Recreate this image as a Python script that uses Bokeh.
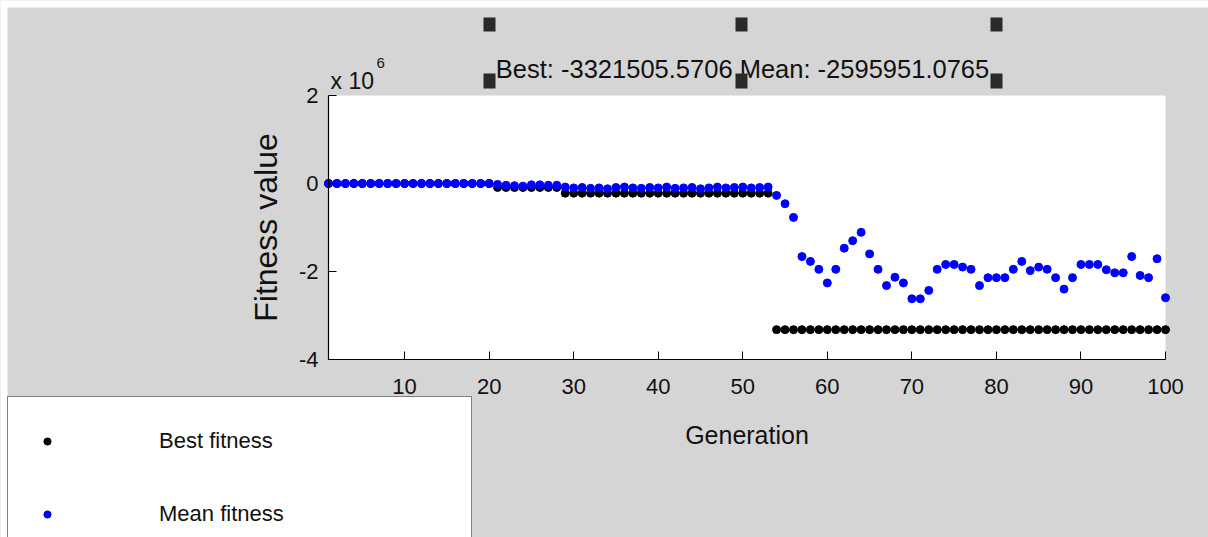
from bokeh.plotting import figure
from bokeh.models import (Range1d, FixedTicker, Label, BoxAnnotation, ColumnDataSource,
                          LinearAxis, Legend, LegendItem)
from bokeh.embed import file_html
from bokeh.resources import INLINE

# ---- data (fitness in units of 1e6) ----
generations = list(range(1, 101))

best_fitness = [
    0.0, 0.0, 0.0, 0.0, 0.0, 0.0, 0.0, 0.0, 0.0, 0.0,
    0.0, 0.0, 0.0, 0.0, 0.0, 0.0, 0.0, 0.0, 0.0, 0.0,
    -0.09, -0.09, -0.09, -0.09, -0.09, -0.09, -0.09, -0.09, -0.22, -0.22,
    -0.22, -0.22, -0.22, -0.22, -0.22, -0.22, -0.22, -0.22, -0.22, -0.22,
    -0.22, -0.22, -0.22, -0.22, -0.22, -0.22, -0.22, -0.22, -0.22, -0.22,
    -0.22, -0.22, -0.22, -3.3215, -3.3215, -3.3215, -3.3215, -3.3215, -3.3215, -3.3215,
    -3.3215, -3.3215, -3.3215, -3.3215, -3.3215, -3.3215, -3.3215, -3.3215, -3.3215, -3.3215,
    -3.3215, -3.3215, -3.3215, -3.3215, -3.3215, -3.3215, -3.3215, -3.3215, -3.3215, -3.3215,
    -3.3215, -3.3215, -3.3215, -3.3215, -3.3215, -3.3215, -3.3215, -3.3215, -3.3215, -3.3215,
    -3.3215, -3.3215, -3.3215, -3.3215, -3.3215, -3.3215, -3.3215, -3.3215, -3.3215, -3.3215,
]

mean_fitness = [
    0.0, 0.0, 0.0, 0.0, 0.0, 0.0, 0.0, 0.0, 0.0, 0.0,
    0.0, 0.0, 0.0, 0.0, 0.0, 0.0, 0.0, 0.0, 0.0, 0.0,
    -0.02, -0.04, -0.05, -0.06, -0.03, -0.03, -0.04, -0.04, -0.08, -0.10,
    -0.09, -0.11, -0.10, -0.12, -0.09, -0.08, -0.10, -0.11, -0.09, -0.10,
    -0.08, -0.11, -0.10, -0.09, -0.12, -0.10, -0.08, -0.10, -0.09, -0.08,
    -0.10, -0.09, -0.08, -0.27, -0.46, -0.77, -1.66, -1.77, -1.95, -2.26,
    -1.95, -1.47, -1.30, -1.11, -1.60, -1.95, -2.32, -2.13, -2.26, -2.62,
    -2.62, -2.43, -1.95, -1.84, -1.84, -1.90, -1.95, -2.32, -2.14, -2.14,
    -2.14, -1.95, -1.77, -1.98, -1.90, -1.95, -2.14, -2.40, -2.14, -1.84,
    -1.84, -1.84, -1.96, -2.03, -2.03, -1.66, -2.09, -2.14, -1.71, -2.596,
]

x_ticks = [10, 20, 30, 40, 50, 60, 70, 80, 90, 100]
y_ticks = [-4, -2, 0, 2]
y_tick_labels = ["-4", "-2", "0", "2"]
x_limits = (1, 100)
y_limits = (-4, 2)

title_text = "Best: -3321505.5706 Mean: -2595951.0765"
legend_labels = ["Best fitness", "Mean fitness"]

# ---- layout (pixels) ----
W, H = 1208, 537
FRAME_L, FRAME_R, FRAME_T, FRAME_B = 328, 1165, 95, 359
FONT = "Liberation Sans"
GRAY = "#d5d5d5"
TXT = "#111111"

# ranges so that the axes box lands on the pixels above, with the whole canvas as frame
xpx = (FRAME_R - FRAME_L) / (x_limits[1] - x_limits[0])
ypx = (FRAME_B - FRAME_T) / (y_limits[1] - y_limits[0])
x_range = Range1d(x_limits[0] - FRAME_L / xpx, x_limits[1] + (W - FRAME_R) / xpx)
y_range = Range1d(y_limits[0] - (H - FRAME_B) / ypx, y_limits[1] + FRAME_T / ypx)

p = figure(width=W, height=H, output_backend="svg", toolbar_location=None,
           x_range=x_range, y_range=y_range, x_axis_type=None, y_axis_type=None,
           min_border=0, min_border_left=0, min_border_right=0, min_border_top=0,
           min_border_bottom=0, background_fill_color=GRAY, border_fill_color=GRAY,
           outline_line_color=None)
p.xgrid.visible = False
p.ygrid.visible = False


def sx(X):
    return X


def sy(Y):
    return H - Y


def screen_box(l, r, t, b, **kw):
    return BoxAnnotation(left=sx(l), right=sx(r), top=sy(t), bottom=sy(b),
                         left_units="screen", right_units="screen",
                         top_units="screen", bottom_units="screen", **kw)


# white page strips (top / left) and white axes area
p.add_layout(screen_box(0, W, 0, 7, fill_color="white", fill_alpha=1, line_color=None, level="underlay"))
p.add_layout(screen_box(0, 7, 0, H, fill_color="white", fill_alpha=1, line_color=None, level="underlay"))
p.add_layout(BoxAnnotation(left=x_limits[0], right=x_limits[1], bottom=y_limits[0], top=y_limits[1],
                           fill_color="white", fill_alpha=1, line_color=None, level="underlay"))

# axes fixed at the box edges
xax = LinearAxis(fixed_location=y_limits[0], bounds=x_limits, ticker=FixedTicker(ticks=x_ticks))
yax = LinearAxis(fixed_location=x_limits[0], bounds=y_limits, ticker=FixedTicker(ticks=y_ticks))
xax.major_label_overrides = {t: str(t) for t in x_ticks}
yax.major_label_overrides = dict(zip(y_ticks, y_tick_labels))
for ax in (xax, yax):
    ax.axis_line_color = "black"
    ax.axis_line_width = 1.2
    ax.major_tick_in = 8
    ax.major_tick_out = 0
    ax.major_tick_line_color = "black"
    ax.minor_tick_line_color = None
    ax.major_label_text_font = FONT
    ax.major_label_text_font_size = "22px"
    ax.major_label_text_color = TXT
    ax.axis_label_text_font = FONT
    ax.axis_label_text_font_style = "normal"
    ax.axis_label_text_color = TXT
xax.major_label_standoff = 19
xax.axis_label = "Generation"
xax.axis_label_text_font_size = "25px"
xax.axis_label_standoff = 24
yax.major_label_standoff = 10
yax.axis_label = "Fitness value"
yax.axis_label_text_font_size = "32px"
yax.axis_label_standoff = 12
p.add_layout(xax, "below")
p.add_layout(yax, "left")

# data
src = ColumnDataSource(dict(gen=generations, best=best_fitness, mean=mean_fitness))
r_best = p.scatter("gen", "best", source=src, size=8, color="black")
r_mean = p.scatter("gen", "mean", source=src, size=8, color="#0000ff")

# title and exponent
p.add_layout(Label(x=sx(742), y=sy(68), x_units="screen", y_units="screen", text=title_text,
                   text_align="center", text_baseline="alphabetic", text_font=FONT,
                   text_font_size="25.5px", text_color=TXT))
p.add_layout(Label(x=sx(330), y=sy(80), x_units="screen", y_units="screen", text="x 10",
                   text_align="left", text_baseline="alphabetic", text_font=FONT,
                   text_font_size="23px", text_color=TXT))
p.add_layout(Label(x=sx(376), y=sy(62), x_units="screen", y_units="screen", text="6",
                   text_align="left", text_baseline="alphabetic", text_font=FONT,
                   text_font_size="15px", text_color=TXT))

# selection handles around the title
for hx in (489, 741, 996):
    for (t, b) in ((17, 31), (73, 88)):
        p.add_layout(screen_box(hx - 6, hx + 6, t, b, fill_color="#2a2a2a", fill_alpha=1.0,
                                line_color=None, level="overlay"))

# legend (box runs off the bottom of the page)
legend = Legend(items=[LegendItem(label=legend_labels[0], renderers=[r_best]),
                       LegendItem(label=legend_labels[1], renderers=[r_mean])],
                location=(7, -22), orientation="vertical",
                padding=30, margin=0, spacing=45,
                glyph_width=18, glyph_height=28, label_height=28, label_width=282,
                label_standoff=103, label_text_font=FONT, label_text_font_size="22px",
                label_text_color=TXT, border_line_color="black", border_line_width=1.5,
                background_fill_color="white", background_fill_alpha=1.0)
p.add_layout(legend)

open("out.html", "w").write(file_html(p, INLINE))
